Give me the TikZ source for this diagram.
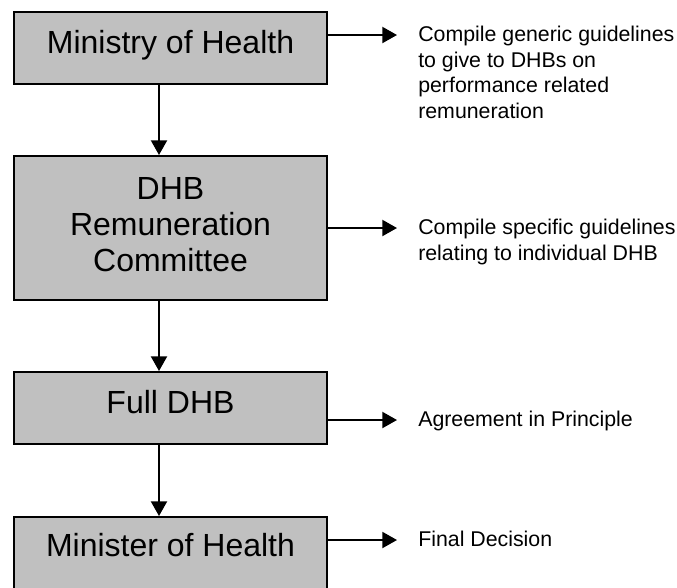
\documentclass[tikz,border=0pt]{standalone}
\usepackage{xcolor}
\usepackage{fontspec}
\setmainfont{Liberation Sans}
\usetikzlibrary{arrows.meta, positioning}

\definecolor{boxgray}{RGB}{192,192,192}

\begin{document}
\begin{tikzpicture}[x=0.75pt, y=-0.75pt,
		stagebox/.style={draw, line width=1.5pt, fill=boxgray, minimum width=234.75pt, align=center, inner sep=0pt, font=\fontsize{24}{27}\selectfont},
		note/.style={anchor=base west, inner sep=0pt, align=left, font=\fontsize{16}{19.3}\selectfont},
		flow/.style={line width=1.5pt, -{Triangle[length=11pt, width=12pt]}}]
		
		\useasboundingbox (0,0) rectangle (677,587);
		
		%//the four stages, top to bottom (text depth lifts the text a little)
		\node [stagebox, minimum height=54pt, text depth=8.6pt] (ministry) at (170.5, 48) {Ministry of Health};
		\node [stagebox, minimum height=108pt, text depth=6pt] (committee) at (170.5, 228) {DHB\\Remuneration\\Committee};
		\node [stagebox, minimum height=54pt, text depth=9.4pt] (fullboard) at (170.5, 408) {Full DHB};
		\node [stagebox, minimum height=54pt, text depth=12.4pt] (minister) at (170.5, 553) {Minister of Health};
		
		\coordinate (spine) at (159, 0);
		\foreach \a/\b in {ministry/committee, committee/fullboard, fullboard/minister}
		\draw [flow] (\a.south -| spine) -- (\b.north -| spine);
		
		%//what each stage does (base = last line)
		\node [note] (task1) at (418, 118.7) {Compile generic guidelines\\to give to DHBs on\\performance related\\remuneration};
		\node [note] (task2) at (418, 260.2) {Compile specific guidelines\\relating to individual DHB};
		\node [note] (task3) at (418, 426.5) {Agreement in Principle};
		\node [note] (task4) at (418, 546.5) {Final Decision};
		
		\coordinate (tip1) at (397, 35);
		\coordinate (tip2) at (397, 228);
		\coordinate (tip3) at (397, 420);
		\coordinate (tip4) at (397, 540);
		
		\draw [flow] (ministry.east |- tip1) -- (tip1);
		\draw [flow] (committee.east |- tip2) -- (tip2);
		\draw [flow] (fullboard.east |- tip3) -- (tip3);
		\draw [flow] (minister.east |- tip4) -- (tip4);
		\end{tikzpicture}
\end{document}
